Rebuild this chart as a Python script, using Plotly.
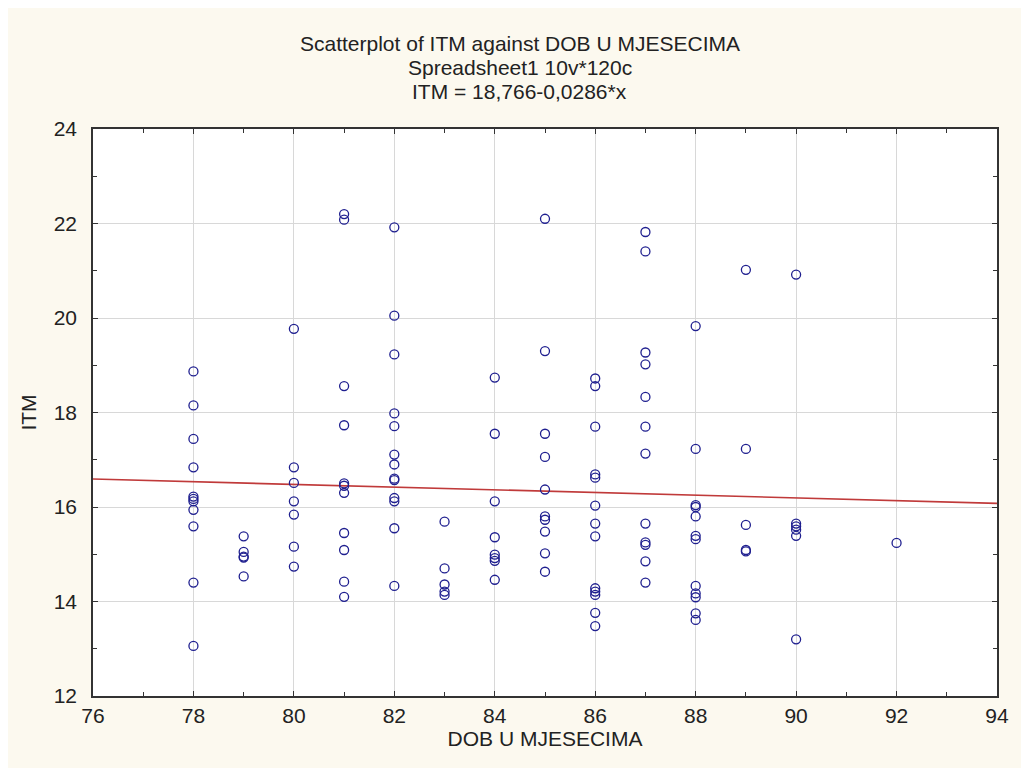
import plotly.graph_objects as go

# ---- data ----
ages = [78, 79, 80, 81, 82, 83, 84, 85, 86, 87, 88, 89, 90, 92]
itm_by_age = [
    [18.87, 18.15, 17.44, 16.84, 16.22, 16.17, 16.12, 15.94, 15.59, 14.40, 13.06],          # 78
    [15.38, 15.05, 14.95, 14.93, 14.53],                                                    # 79
    [19.77, 16.84, 16.51, 16.12, 15.84, 15.16, 14.74],                                      # 80
    [22.20, 22.08, 18.56, 17.73, 16.50, 16.45, 16.30, 15.45, 15.09, 14.42, 14.10],          # 81
    [21.92, 20.05, 19.23, 17.98, 17.71, 17.11, 16.90, 16.60, 16.57, 16.19, 16.12, 15.55, 14.33],  # 82
    [15.69, 14.70, 14.36, 14.21, 14.14],                                                    # 83
    [18.74, 17.55, 16.12, 15.36, 14.99, 14.92, 14.86, 14.46],                               # 84
    [22.10, 19.30, 17.55, 17.06, 16.37, 15.80, 15.73, 15.48, 15.02, 14.63],                 # 85
    [18.72, 18.56, 17.70, 16.69, 16.62, 16.03, 15.65, 15.38, 14.28, 14.21, 14.14, 13.76, 13.48],  # 86
    [21.82, 21.41, 19.27, 19.02, 18.33, 17.70, 17.13, 15.65, 15.25, 15.20, 14.85, 14.40],   # 87
    [19.83, 17.23, 16.04, 16.00, 15.80, 15.39, 15.32, 14.33, 14.17, 14.09, 13.75, 13.61],   # 88
    [21.02, 17.23, 15.62, 15.09, 15.06],                                                    # 89
    [20.92, 15.65, 15.59, 15.52, 15.39, 13.20],                                             # 90
    [15.24],                                                                                # 92
]
intercept = 18.766
slope = -0.0286
line_x = [76, 94]

title_lines = ["Scatterplot of ITM against DOB U MJESECIMA",
               "Spreadsheet1 10v*120c",
               "ITM = 18,766-0,0286*x"]
x_ticks = [76, 78, 80, 82, 84, 86, 88, 90, 92, 94]
y_ticks = [12, 14, 16, 18, 20, 22, 24]

dob = [a for a, vals in zip(ages, itm_by_age) for _ in vals]
itm = [v for vals in itm_by_age for v in vals]
line_y = [intercept + slope * x for x in line_x]

FONT = "Liberation Sans, Arial, sans-serif"
fig = go.Figure()
fig.add_trace(go.Scatter(
    x=line_x, y=line_y, mode="lines",
    line=dict(color="#c03a3a", width=1.6), hoverinfo="skip", showlegend=False))
fig.add_trace(go.Scatter(
    x=dob, y=itm, mode="markers",
    marker=dict(symbol="circle-open", size=9, color="#1f1f8f", line=dict(width=1.3)),
    showlegend=False))

W, H = 1013, 760
L, R, T, B = 84.5, 12.5, 121.3, 72.3
ph = H - T - B
pw = W - L - R

def ypaper(px):
    return (H - B - px) / ph

ann = []
for txt, py in zip(title_lines, [36, 60, 84]):
    ann.append(dict(text=txt, xref="paper", yref="paper",
                    x=(517 - L) / pw, y=ypaper(py),
                    xanchor="center", yanchor="middle", showarrow=False,
                    font=dict(family=FONT, size=21, color="#222")))

fig.update_layout(
    width=W, height=H,
    margin=dict(l=L, r=R, t=T, b=B, pad=0),
    paper_bgcolor="#fcf9ef", plot_bgcolor="white",
    annotations=ann,
    xaxis=dict(range=[76, 94], tickvals=x_ticks, ticks="inside", ticklen=5,
               tickcolor="#333", showline=True, mirror="ticks", linecolor="#333",
               linewidth=1.5, showgrid=True, gridcolor="#d8d8d8", gridwidth=1,
               zeroline=False, tickfont=dict(family=FONT, size=21, color="#222"),
               minor=dict(dtick=1, tick0=77, ticks="inside", ticklen=4, tickcolor="#333", showgrid=False),
               title=dict(text="DOB U MJESECIMA", font=dict(family=FONT, size=21, color="#222"), standoff=3),
               ticklabelstandoff=0),
    yaxis=dict(range=[12, 24], tickvals=y_ticks, ticks="inside", ticklen=5,
               tickcolor="#333", showline=True, mirror="ticks", linecolor="#333",
               linewidth=1.5, showgrid=True, gridcolor="#d8d8d8", gridwidth=1,
               zeroline=False, tickfont=dict(family=FONT, size=21, color="#222"),
               minor=dict(dtick=1, tick0=13, ticks="inside", ticklen=4, tickcolor="#333", showgrid=False),
               title=dict(text="ITM", font=dict(family=FONT, size=21, color="#222"), standoff=11),
               ticklabelstandoff=10),
)
fig.write_html("out.html")
